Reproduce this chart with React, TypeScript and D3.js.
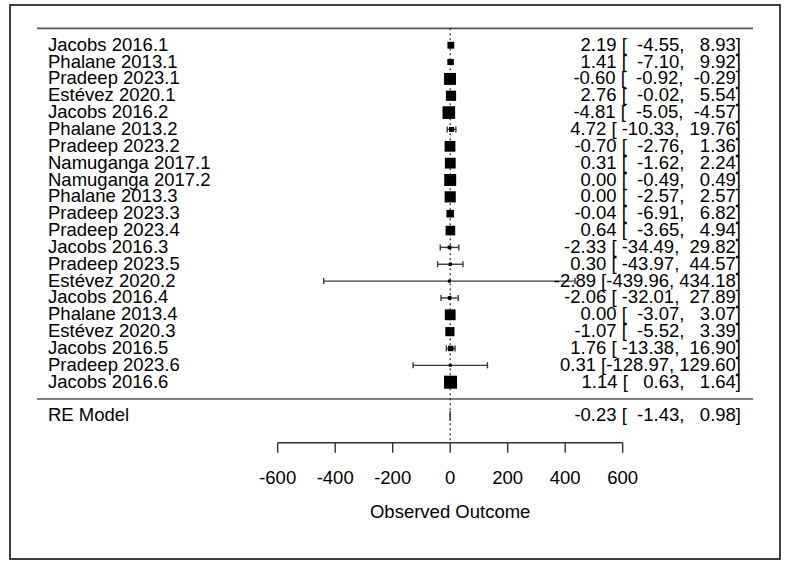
import React from "react";
import * as d3 from "d3";

const studies = [
  "Jacobs 2016.1", "Phalane 2013.1", "Pradeep 2023.1", "Estévez 2020.1", "Jacobs 2016.2",
  "Phalane 2013.2", "Pradeep 2023.2", "Namuganga 2017.1", "Namuganga 2017.2", "Phalane 2013.3",
  "Pradeep 2023.3", "Pradeep 2023.4", "Jacobs 2016.3", "Pradeep 2023.5", "Estévez 2020.2",
  "Jacobs 2016.4", "Phalane 2013.4", "Estévez 2020.3", "Jacobs 2016.5", "Pradeep 2023.6",
  "Jacobs 2016.6",
];
const estimates = [2.19, 1.41, -0.6, 2.76, -4.81, 4.72, -0.7, 0.31, 0.0, 0.0, -0.04, 0.64, -2.33, 0.3, -2.89, -2.06, 0.0, -1.07, 1.76, 0.31, 1.14];
const lowers = [-4.55, -7.1, -0.92, -0.02, -5.05, -10.33, -2.76, -1.62, -0.49, -2.57, -6.91, -3.65, -34.49, -43.97, -439.96, -32.01, -3.07, -5.52, -13.38, -128.97, 0.63];
const uppers = [8.93, 9.92, -0.29, 5.54, -4.57, 19.76, 1.36, 2.24, 0.49, 2.57, 6.82, 4.94, 29.82, 44.57, 434.18, 27.89, 3.07, 3.39, 16.9, 129.6, 1.64];
const weights = [3.6, 2.9, 8.0, 6.5, 8.6, 2.0, 7.0, 7.0, 8.0, 7.3, 4.2, 6.0, 0.9, 0.6, 0.3, 0.9, 7.0, 5.6, 2.4, 0.3, 8.9];

const modelLabel = "RE Model";
const modelEstimate = -0.23;
const modelLower = -1.43;
const modelUpper = 0.98;

const xTicks = [-600, -400, -200, 0, 200, 400, 600];
const xLabel = "Observed Outcome";

const W = 787;
const H = 565;
const FONT = "'Liberation Sans', Arial, Helvetica, sans-serif";
const FS = 18.5;

export default function App() {
  const x = d3.scaleLinear().domain([-600, 600]).range([277.7, 622.7]);
  const k = studies.length;
  const step = 16.85;
  const yTopRow = 45.2;
  const y = (i: number) => yTopRow + i * step;
  const yTopLine = yTopRow - step;
  const ySep = y(k - 1) + step;
  const yModel = ySep + step;
  const yAxis = 442.7;
  const size = d3.scaleLinear().domain([d3.min(weights)!, d3.max(weights)!]).range([3, 13]);
  const fmt = (v: number) => v.toFixed(2);

  const allEst = [...estimates, modelEstimate].map(fmt);
  const allLo = [...lowers, modelLower].map(fmt);
  const allUp = [...uppers, modelUpper].map(fmt);
  const wEst = d3.max(allEst, (s) => s.length)!;
  const wLo = d3.max(allLo, (s) => s.length)!;
  const wUp = d3.max(allUp, (s) => s.length)!;
  const annoString = (e: number, l: number, u: number) =>
    fmt(e).padStart(wEst, " ") + " [" + fmt(l).padStart(wLo, " ") + ", " + fmt(u).padStart(wUp, " ") + "]";

  const xRight = 741;
  const lineX0 = 37;
  const lineX1 = 753;
  const labelX = 48;
  const tb = 5.5;
  const ciColor = "#3a3a3a";

  return (
    <svg width={W} height={H} style={{ position: "absolute", left: 0, top: 0, background: "#fff" }}>
      <rect x={0} y={0} width={W} height={H} fill="#fff" />
      <rect x={10} y={5} width={770} height={554} fill="none" stroke="#111" strokeWidth={1.6} />

      <line x1={lineX0} x2={lineX1} y1={yTopLine} y2={yTopLine} stroke="#555" strokeWidth={1.6} />
      <line x1={lineX0} x2={lineX1} y1={ySep} y2={ySep} stroke="#555" strokeWidth={1.6} />

      <line x1={x(0)} x2={x(0)} y1={yTopLine} y2={yAxis} stroke="#222" strokeWidth={1.2} strokeDasharray="2 3" />

      {studies.map((s, i) => {
        const yy = y(i);
        const sz = size(weights[i]);
        const x0 = x(lowers[i]);
        const x1 = x(uppers[i]);
        return (
          <g key={s}>
            <line x1={x0} x2={x1} y1={yy} y2={yy} stroke={ciColor} strokeWidth={1.4} />
            <line x1={x0} x2={x0} y1={yy - 3} y2={yy + 3} stroke={ciColor} strokeWidth={1.4} />
            <line x1={x1} x2={x1} y1={yy - 3} y2={yy + 3} stroke={ciColor} strokeWidth={1.4} />
            <rect x={x(estimates[i]) - sz / 2} y={yy - sz / 2} width={sz} height={sz} fill="#000" />
            <text x={labelX} y={yy + tb} fontFamily={FONT} fontSize={FS} fill="#000">{s}</text>
          </g>
        );
      })}
      {studies.map((s, i) => (
        <text
          key={"a" + s}
          x={xRight}
          y={y(i) + tb}
          textAnchor="end"
          fontFamily={FONT}
          fontSize={FS}
          fill="#000"
          xmlSpace="preserve"
          style={{ whiteSpace: "pre" }}
        >
          {annoString(estimates[i], lowers[i], uppers[i])}
        </text>
      ))}

      <polygon
        points={[
          [x(modelLower), yModel],
          [x(modelEstimate), yModel - 5],
          [x(modelUpper), yModel],
          [x(modelEstimate), yModel + 5],
        ].map((p) => p.join(",")).join(" ")}
        fill="#000"
        stroke="#333"
        strokeWidth={0.8}
      />
      <text x={labelX} y={yModel + tb} fontFamily={FONT} fontSize={FS} fill="#000">{modelLabel}</text>
      <text
        x={xRight}
        y={yModel + tb}
        textAnchor="end"
        fontFamily={FONT}
        fontSize={FS}
        fill="#000"
        xmlSpace="preserve"
        style={{ whiteSpace: "pre" }}
      >
        {annoString(modelEstimate, modelLower, modelUpper)}
      </text>

      <line x1={x(xTicks[0])} x2={x(xTicks[xTicks.length - 1])} y1={yAxis} y2={yAxis} stroke="#333" strokeWidth={1.4} />
      {xTicks.map((t) => (
        <g key={t}>
          <line x1={x(t)} x2={x(t)} y1={yAxis} y2={yAxis + 10} stroke="#333" strokeWidth={1.4} />
          <text x={x(t)} y={484} textAnchor="middle" fontFamily={FONT} fontSize={FS} fill="#000">{t}</text>
        </g>
      ))}
      <text x={x(0)} y={518} textAnchor="middle" fontFamily={FONT} fontSize={FS} fill="#000">{xLabel}</text>
    </svg>
  );
}
